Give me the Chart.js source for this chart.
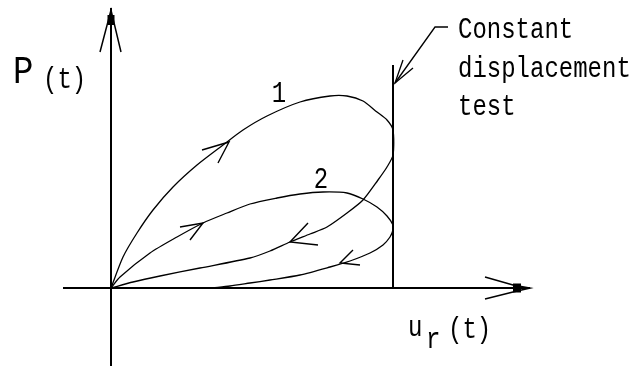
<!DOCTYPE html>
<html>
<head>
<meta charset="utf-8">
<script src="https://cdn.jsdelivr.net/npm/chart.js@4/dist/chart.umd.min.js"></script>
<style>
  html, body { margin: 0; padding: 0; background: #fff; }
  canvas { display: block; }
</style>
</head>
<body>
<canvas id="loopChart" width="641" height="366"></canvas>
<script>
// Load / displacement loops, constant displacement test (sketch)
// u = displacement, p = load, in sketch units measured from the origin

const loop1Load = [[0,0],[12,31],[26,55],[42,78],[62,101],[86,123],[112,143],[132,158],[156,172],
    [189,186],[219,192],[236,192],[252,187],[266,176],[276,168],[282,158],[282,133]];
const loop1Unload = [[282,133],[276,121],[267,108],[252,88],[236,75],[216,61],[199,54],[179,46],
    [159,37],[139,30],[89,20],[49,12],[22,6],[0,0]];
const loop2Load = [[0,0],[9,11],[39,35],[66,51],[92,65],[116,75],[139,84],[166,90],[189,94],
    [212,96],[236,95],[252,89],[266,81],[276,72],[282,63],[282,58]];
const loop2Unload = [[282,58],[279,51],[272,43],[259,35],[239,27],[219,21],[189,13],[159,8],
    [139,5],[119,2],[102,0]];

// direction arrows on the loops: barb, tip, barb
const arrowLoad1 = [[91,138],[118,146],[107,125]];
const arrowLoad2 = [[69,61],[92,65],[79,48]];
const arrowUnload1 = [[197,65],[179,46],[207,43]];
const arrowUnload2 = [[242,38],[229,25],[249,23]];

// axes and the fixed displacement limit
const yAxisLine = [[0,-78],[0,280]];
const yAxisHead = [[-11,236],[0,278],[10,236]];
const yAxisTip = [[0,263],[0,273]];
const xAxisLine = [[-48,0],[419,0]];
const xAxisHead = [[374,11],[402,3],[419,0],[402,-4],[374,-11]];
const xAxisTip = [[402,0],[410,0]];
const limitLine = [[282,0],[282,223]];
const pointerLine = [[337,261],[324,261],[284,205]];
const pointerHead = [[292,228],[284,205],[302,220]];

// text: [text, u, p, size, stretch, align]
const labels = [
    ['P', -98, 205, 34, 1.15, 'left'],
    ['(t)', -68, 200, 24, 1.2, 'left'],
    ['1', 168, 186, 24, 1.2, 'center'],
    ['2', 210, 100, 24, 1.2, 'center'],
    ['Constant', 347, 250, 24, 1.25, 'left'],
    ['displacement', 347, 211, 24, 1.25, 'left'],
    ['test', 347, 173, 24, 1.25, 'left'],
    ['u', 297, -48, 24, 1.25, 'left'],
    ['r', 315, -60, 24, 1.25, 'left'],
    ['(t)', 337, -50, 24, 1.25, 'left'],
];

const toPts = arr => arr.map(([x, y]) => ({ x, y }));

function lineSet(points, width, tension) {
    return {
        data: toPts(points),
        showLine: true,
        borderColor: '#000',
        backgroundColor: '#000',
        borderWidth: width,
        pointRadius: 0,
        tension: tension || 0,
        clip: false,
    };
}

const textPlugin = {
    id: 'sketchText',
    afterDatasetsDraw(chart) {
        const ctx = chart.ctx;
        const xs = chart.scales.x, ys = chart.scales.y;
        labels.forEach(([txt, u, p, size, stretch, align]) => {
            ctx.save();
            ctx.translate(xs.getPixelForValue(u), ys.getPixelForValue(p));
            ctx.scale(1, stretch);
            ctx.font = size + 'px "Liberation Mono", "DejaVu Sans Mono", monospace';
            ctx.fillStyle = '#000';
            ctx.textAlign = align;
            ctx.textBaseline = 'alphabetic';
            ctx.fillText(txt, 0, 0);
            ctx.restore();
        });
    }
};

new Chart(document.getElementById('loopChart').getContext('2d'), {
    type: 'scatter',
    data: {
        datasets: [
            lineSet(yAxisLine, 2),
            lineSet(yAxisHead, 1.5),
            lineSet(yAxisTip, 7),
            lineSet(xAxisLine, 2),
            lineSet(xAxisHead, 1.5),
            lineSet(xAxisTip, 9),
            lineSet(limitLine, 2),
            lineSet(pointerLine, 1.3),
            lineSet(pointerHead, 1.3),
            lineSet(loop1Load.concat(loop1Unload.slice(1)), 1.3, 0.25),
            lineSet(loop2Load.concat(loop2Unload.slice(1)), 1.3, 0.25),
            lineSet(arrowLoad1, 1.4),
            lineSet(arrowLoad2, 1.4),
            lineSet(arrowUnload1, 1.4),
            lineSet(arrowUnload2, 1.4),
        ]
    },
    options: {
        responsive: false,
        animation: false,
        layout: { padding: 0 },
        scales: {
            x: { type: 'linear', display: false, min: -111, max: 530 },
            y: { type: 'linear', display: false, min: -78, max: 288 }
        },
        plugins: {
            legend: { display: false },
            tooltip: { enabled: false }
        }
    },
    plugins: [textPlugin]
});
</script>
</body>
</html>
